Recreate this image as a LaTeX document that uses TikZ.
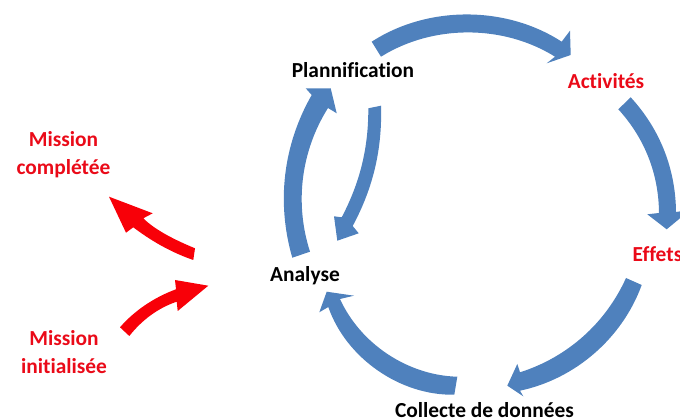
\documentclass[tikz,border=0pt]{standalone}
\usepackage{fontspec}
\setmainfont[Ligatures=NoCommon]{Carlito}
\definecolor{cycleblue}{HTML}{4F81BD}
\definecolor{alertred}{HTML}{F80008}
\definecolor{labelred}{HTML}{EA0A18}
\tikzset{
  x=1pt,y=-1pt,
  bluearrow/.style={fill=cycleblue,draw=none},
  redarrow/.style={fill=alertred,draw=none},
  outer/.style={bend left=#1,looseness=0.9},
  inner/.style={bend right=#1,looseness=0.9},
  blacklabel/.style={font=\bfseries\fontsize{21.4}{26}\selectfont,text=black,inner sep=0pt,align=center},
  redlabel/.style={font=\bfseries\fontsize{21.4}{28}\selectfont,text=labelred,inner sep=0pt,align=center}
}
\begin{document}
\begin{tikzpicture}
\useasboundingbox (0,0) rectangle (680,419);
% blue cycle
\fill[bluearrow] (371.7,41.7) to[outer=33] (561.7,41.7) -- (570,30.7) -- (570.7,55) -- (546.7,63.3) -- (555,56.7) to[inner=32] (381,56.7) -- cycle;
\fill[bluearrow] (630.7,97.3) to[outer=21] (676,212) -- (690,210) -- (666.7,229.3) -- (647.3,214.3) -- (659,213) to[inner=21] (618.3,109.3) -- cycle;
\fill[bluearrow] (641.7,285) to[outer=29] (520,390.7) -- (523.3,396.3) -- (507.3,385.7) -- (517.3,364) -- (520,372.3) to[inner=24] (626,278) -- cycle;
\fill[bluearrow] (457.3,376.7) to[outer=32] (340,299) -- (354,295.7) -- (326.7,291.7) -- (319.3,312.3) -- (328.3,307) to[inner=36] (454.3,394.7) -- cycle;
\fill[bluearrow] (292.3,257.7) to[outer=23] (311.7,95) -- (305.7,88.3) -- (330.7,88.3) -- (336.7,113.3) -- (328,108) to[inner=25] (310,251.7) -- cycle;
\fill[bluearrow] (368.3,108.3) to[outer=14] (341.7,217.3) -- (334,216.3) -- (337.3,240.7) -- (358.7,233.3) -- (352.7,226) to[inner=15] (381,105.7) -- cycle;
% red arrows
\fill[redarrow] (195,248.3) .. controls (175,240) and (155,230) .. (143.3,218.3) -- (152.7,213.3) -- (109,196.7) -- (126,232.7) -- (133.3,227.3) .. controls (150,240) and (170,252) .. (193.3,260) -- cycle;
\fill[redarrow] (120,327.3) .. controls (135,310) and (155,297) .. (176,289.3) -- (175,280) -- (208.3,285.7) -- (177.7,311) -- (176.7,301.7) .. controls (158,308) and (142,320) .. (129.3,336) -- cycle;
% labels
\node[blacklabel] (plan) at (353,70) {Plannification};
\node[redlabel] (act) at (606,81) {Activités};
\node[redlabel,anchor=west] (eff) at (632.5,254) {Effets};
\node[blacklabel] (coll) at (484.5,410.5) {Collecte de données};
\node[blacklabel] (ana) at (305,276) {Analyse};
\node[redlabel] (done) at (63.5,155) {Mission\\complétée};
\node[redlabel] (init) at (64,352) {Mission\\initialisée};
\end{tikzpicture}
\end{document}
